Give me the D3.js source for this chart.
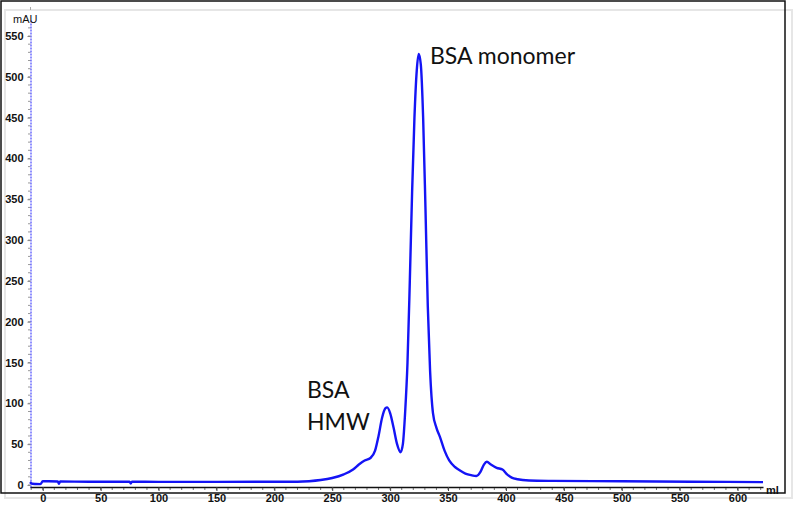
<!DOCTYPE html>
<html>
<head>
<meta charset="utf-8">
<script src="https://cdn.jsdelivr.net/npm/d3@7"></script>
<style>
	body { margin: 0; background: #fff; }
	svg { display: block; }
	.tick text { font-family: "Liberation Sans", Arial, sans-serif; font-size: 11px; font-weight: bold; fill: #111; }
</style>
</head>
<body>
<div id="vis-div"></div>
<script>
'use strict'

// elution volume (ml) and absorbance (mAU)
let volume = [-11, -9, -6, -2, 0, 5, 13, 14, 15, 40, 75, 76, 77, 100, 150, 200, 220, 230, 240, 250, 260, 268, 273, 278, 283, 287, 290, 293, 296, 297.5, 300, 303, 306, 309, 311, 313, 315, 317, 319, 321, 323, 324.7, 326.5, 328.5, 330.5, 332.5, 334.5, 337, 340, 343, 347, 351, 356, 360, 365, 370, 374.5, 378, 381, 383.5, 387, 392, 397, 401, 405, 410, 420, 440, 500, 560, 622]
let absorb = [3.5, 1.5, 1.2, 1.0, 4.5, 4.5, 4.2, 1.5, 4.2, 4.0, 4.0, 1.8, 4.0, 3.8, 3.8, 3.9, 4.0, 4.6, 6, 8.5, 13, 19, 25, 30, 33, 42, 60, 82, 94, 95, 88, 70, 50, 40, 50, 90, 150, 250, 360, 450, 508, 528, 515, 450, 340, 220, 140, 88, 70, 59, 42, 30, 22, 18, 14, 12, 11, 16, 25, 28.5, 25, 21, 19, 13, 9, 7, 5.5, 5, 4.5, 4, 3.5]

let xTicks = [0, 50, 100, 150, 200, 250, 300, 350, 400, 450, 500, 550, 600]
let yTicks = [0, 50, 100, 150, 200, 250, 300, 350, 400, 450, 500, 550]

let labels = [
	{ text: "BSA monomer", x: 430, y: 64 },
	{ text: "BSA", x: 307, y: 398 },
	{ text: "HMW", x: 307, y: 430 }
]

function renderChrom(width, height){
	let svg = d3.select('#vis-div')
		.append("svg")
		.attr("width", width)
		.attr("height", height)

	// window shadow and frame
	svg.append("rect")
		.attr("x", 5).attr("y", 10).attr("width", 787).attr("height", 488)
		.style("fill", "none").style("stroke", "#e6e6e6").style("stroke-width", 2)
	svg.append("rect")
		.attr("x", 1).attr("y", 1).attr("width", 784).attr("height", 492)
		.style("fill", "none").style("stroke", "#111").style("stroke-width", 1.5)

	let xScale = d3.scaleLinear().domain([-11, 622]).range([30, 763])
	let yScale = d3.scaleLinear().domain([-2.5, 570]).range([487, 19.7])

	// minor ticks
	let xMinor = d3.range(-10, 621, 10)
	svg.append("g").selectAll("line").data(xMinor).enter().append("line")
		.attr("x1", function(d){ return xScale(d) })
		.attr("x2", function(d){ return xScale(d) })
		.attr("y1", 487).attr("y2", 490)
		.style("stroke", "#777").style("stroke-width", 1)
	let yMinor = d3.range(0, 570, 10)
	svg.append("g").selectAll("line").data(yMinor).enter().append("line")
		.attr("x1", 28).attr("x2", 30.5)
		.attr("y1", function(d){ return yScale(d) })
		.attr("y2", function(d){ return yScale(d) })
		.style("stroke", "#999").style("stroke-width", 1)

	let x = svg.append("g")
		.attr("transform", "translate(0,487)")
		.call(d3.axisBottom(xScale).tickValues(xTicks).tickSize(4).tickPadding(3).tickSizeOuter(0))
	x.select(".domain").style("stroke", "#111").style("stroke-width", 1.5)
	x.selectAll(".tick line").style("stroke", "#444")

	let y = svg.append("g")
		.attr("transform", "translate(30.5,0)")
		.call(d3.axisLeft(yScale).tickValues(yTicks).tickSize(3).tickPadding(4).tickSizeOuter(0))
	y.select(".domain").style("stroke", "#2020ff").style("stroke-width", 1).style("stroke-dasharray", "2,1")
	y.selectAll(".tick line").style("stroke", "#888")

	// top tick of y axis
	svg.append("line").attr("x1", 30.5).attr("x2", 30.5).attr("y1", 7).attr("y2", 10)
		.style("stroke", "#aaa")

	svg.append("text").attr("x", 13).attr("y", 23).text("mAU")
		.style("font-family", "Liberation Sans, Arial, sans-serif").style("font-size", "11px").style("fill", "#111")
	svg.append("text").attr("x", 766).attr("y", 494).text("ml")
		.style("font-family", "Liberation Sans, Arial, sans-serif").style("font-size", "11px")
		.style("font-weight", "bold").style("fill", "#111")

	let points = volume.map(function(d, i){ return [d, absorb[i]] })
	let line = d3.line()
		.x(function(d){ return xScale(d[0]) })
		.y(function(d){ return yScale(d[1]) })
		.curve(d3.curveMonotoneX)

	svg.append("path")
		.datum(points)
		.attr("d", line)
		.style("fill", "none")
		.style("stroke", "#1414f5")
		.style("stroke-width", 2.4)
		.style("stroke-linejoin", "round")

	svg.append("g").selectAll("text").data(labels).enter().append("text")
		.attr("x", function(d){ return d.x })
		.attr("y", function(d){ return d.y })
		.text(function(d){ return d.text })
		.style("font-family", "Lato, 'Open Sans', sans-serif")
		.style("font-size", "23px")
		.style("fill", "#111")
}

renderChrom(800, 510)
</script>
</body>
</html>
